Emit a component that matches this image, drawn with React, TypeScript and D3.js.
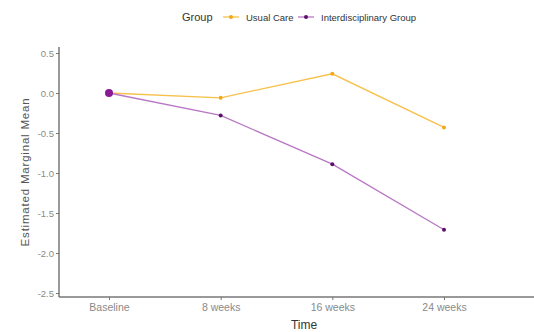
import React, { useEffect, useRef } from 'react';
import * as d3 from 'd3';

const timepoints = ['Baseline', '8 weeks', '16 weeks', '24 weeks'];
const usualCare = [0.0, -0.06, 0.24, -0.43];
const interdisciplinary = [0.0, -0.28, -0.89, -1.71];
const yTicks = [0.5, 0.0, -0.5, -1.0, -1.5, -2.0, -2.5];

const groups = [
  { name: 'Usual Care', values: usualCare, line: '#F7C04A', point: '#F2A81D' },
  { name: 'Interdisciplinary Group', values: interdisciplinary, line: '#B877C4', point: '#5E0F6E' },
];

const W = 534;
const H = 332;

const App = () => {
  const svgRef = useRef<SVGSVGElement>(null);

  useEffect(() => {
    const svg = d3.select(svgRef.current);
    svg.selectAll('*').remove();

    const left = 59;
    const bottom = 297;
    const top = 47;

    const x = d3.scalePoint<string>().domain(timepoints).range([109, 444]);
    const y = d3.scaleLinear().domain([-2.5, 0.5]).range([293, 53]);

    const font = 'Liberation Sans, Arial, sans-serif';
    const fmt = (d: number) => d3.format('.1f')(d).replace('\u2212', '-');

    // axes
    const yAxis = svg.append('g').attr('transform', `translate(${left},0)`)
      .call(d3.axisLeft(y).tickValues(yTicks).tickFormat(fmt as any).tickSize(3).tickSizeOuter(0));
    yAxis.select('.domain').attr('d', `M0,${top}V${bottom}`).attr('stroke', '#777').attr('stroke-width', 1.5);
    yAxis.selectAll('.tick line').attr('stroke', '#777');
    yAxis.selectAll('.tick text')
      .attr('font-family', font).attr('font-size', 9.5).attr('fill', '#8a8a8a')
      .attr('x', -5);

    const xAxis = svg.append('g').attr('transform', `translate(0,${bottom})`)
      .call(d3.axisBottom(x).tickSize(3).tickSizeOuter(0));
    xAxis.select('.domain').attr('d', `M${left},0H${W + 10}`).attr('stroke', '#777').attr('stroke-width', 1.5);
    xAxis.selectAll('.tick line').attr('stroke', '#777');
    xAxis.selectAll('.tick text')
      .attr('font-family', font).attr('font-size', 10.5).attr('fill', '#8a8a8a').attr('y', 7);

    // axis titles
    svg.append('text')
      .attr('x', 304).attr('y', 328.5)
      .attr('text-anchor', 'middle')
      .attr('font-family', font).attr('font-size', 12).attr('fill', '#333')
      .text('Time');

    svg.append('text')
      .attr('transform', `translate(29,172) rotate(-90)`)
      .attr('text-anchor', 'middle')
      .attr('font-family', font).attr('font-size', 11.5).attr('fill', '#555')
      .attr('letter-spacing', 0.8)
      .text('Estimated Marginal Mean');

    // lines and points
    const line = d3.line<number>()
      .x((_, i) => x(timepoints[i]) as number)
      .y((d) => y(d));

    groups.forEach((g) => {
      svg.append('path')
        .datum(g.values)
        .attr('d', line)
        .attr('fill', 'none')
        .attr('stroke', g.line)
        .attr('stroke-width', 1.3);
    });

    groups.forEach((g) => {
      svg.append('g')
        .selectAll('circle')
        .data(g.values)
        .enter()
        .append('circle')
        .attr('cx', (_, i) => x(timepoints[i]) as number)
        .attr('cy', (d) => y(d))
        .attr('r', 2)
        .attr('fill', g.point);
    });

    // larger baseline marker on top
    svg.append('circle')
      .attr('cx', x(timepoints[0]) as number)
      .attr('cy', y(interdisciplinary[0]))
      .attr('r', 4)
      .attr('fill', '#8A1A93');

    // legend
    const legend = svg.append('g').attr('font-family', font);
    legend.append('text')
      .attr('x', 182).attr('y', 21)
      .attr('font-size', 11).attr('fill', '#333')
      .text('Group');

    const keys = [
      { kx: 223, tx: 246 },
      { kx: 298, tx: 321 },
    ];
    groups.forEach((g, i) => {
      const k = keys[i];
      legend.append('line')
        .attr('x1', k.kx).attr('x2', k.kx + 16)
        .attr('y1', 17).attr('y2', 17)
        .attr('stroke', g.line).attr('stroke-width', 1.3);
      legend.append('circle')
        .attr('cx', k.kx + 8).attr('cy', 17).attr('r', 2)
        .attr('fill', g.point);
      legend.append('text')
        .attr('x', k.tx).attr('y', 20.5)
        .attr('font-size', 9.5).attr('fill', '#333')
        .text(g.name);
    });
  }, []);

  return (
    <svg
      ref={svgRef}
      width={W}
      height={H}
      style={{ position: 'absolute', left: 0, top: 0, background: '#fff' }}
    />
  );
};

export default App;
